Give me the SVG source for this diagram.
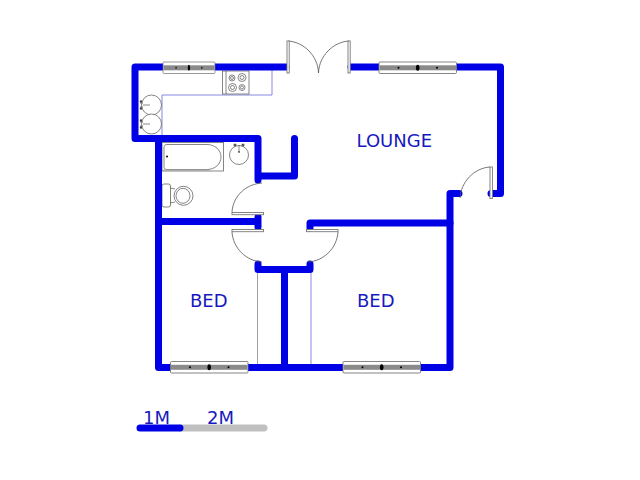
<svg xmlns="http://www.w3.org/2000/svg" width="640" height="480" viewBox="0 0 640 480">
<style>
.wall{fill:none;stroke:#0000e6;stroke-width:7;stroke-linecap:round;stroke-linejoin:round}
.fit{fill:none;stroke:#555;stroke-width:.7}
.fitw{fill:#fff;stroke:#666;stroke-width:.8}
.thin{fill:none;stroke:#6a6ad8;stroke-width:.8}
.arc{fill:none;stroke:#555;stroke-width:.8}
.leaf{fill:#fff;stroke:#777;stroke-width:.9}
.lbl{font-family:"DejaVu Sans",sans-serif;font-size:18px;fill:#1818c0}
.d{fill:#000}
</style>
<defs>
<g id="win78">
<rect x="0" y="0" width="77.5" height="11.5" rx="1" fill="#fff" stroke="#777" stroke-width=".9"/>
<rect x=".5" y="3.3" width="76.5" height="5" fill="#8a8a8a"/>
<ellipse cx="38.7" cy="5.8" rx="1.8" ry="3" fill="#000"/>
<circle cx="19.5" cy="5.8" r="1" fill="#000"/>
<circle cx="58" cy="5.8" r="1" fill="#000"/>
</g>
</defs>
<g id="fittings">
<path class="thin" d="M272 70V95H162V136"/>
<path class="thin" style="stroke:#888" d="M257.500 272V365"/>
<path class="thin" d="M311 272V365"/>
<g id="stove">
<rect class="fitw" x="222.500" y="71" width="26.500" height="23"/>
<path class="fit" d="M226 71V94"/>
<circle class="fit" cx="232" cy="78" r="3"/><circle class="fit" cx="232" cy="78" r="1.500"/>
<circle class="fit" cx="242" cy="77.500" r="4"/><circle class="fit" cx="242" cy="77.500" r="2"/>
<circle class="fit" cx="232.500" cy="87.500" r="4"/><circle class="fit" cx="232.500" cy="87.500" r="2"/>
<circle class="fit" cx="242" cy="87.500" r="3"/><circle class="fit" cx="242" cy="87.500" r="1.500"/>
</g>
<g id="sink1"><circle class="fitw" cx="151.500" cy="105" r="10"/><path class="fit" d="M140 103h3M140 107h3M143 105h7"/><circle cx="141" cy="101.500" r="1.200" fill="#444"/><circle cx="141" cy="108.500" r="1.200" fill="#444"/></g>
<g id="sink2"><circle class="fitw" cx="151.500" cy="124" r="10"/><path class="fit" d="M140 122h3M140 126h3M143 124h7"/><circle cx="141" cy="120.500" r="1.200" fill="#444"/><circle cx="141" cy="127.500" r="1.200" fill="#444"/></g>
<g id="bath">
<rect class="fitw" x="162" y="142.500" width="61.500" height="28.500"/>
<path class="fit" d="M167 144.500H207C215 144.500 221 150 221 157C221 164 215 169.500 207 169.500H167C165 169.500 164 168.500 164 166.500V147.500C164 145.500 165 144.500 167 144.500Z"/>
<path d="M163 170H210" stroke="#999" stroke-width="1.200"/>
<circle class="d" cx="167" cy="156.500" r="1"/>
</g>
<g id="basin">
<circle class="fitw" cx="239" cy="155" r="9.500"/>
<circle cx="235" cy="145" r="1.500" fill="#555"/><circle cx="243" cy="145" r="1.500" fill="#555"/>
<path class="fit" d="M239 145V152"/><circle class="d" cx="239" cy="152" r=".8"/>
</g>
<g id="toilet">
<rect class="fitw" x="162" y="184" width="8.500" height="23" rx="2"/>
<path class="fit" d="M170 188L175 189M170 203L175 202"/>
<ellipse class="fitw" cx="183.500" cy="195.800" rx="9.500" ry="9.500"/>
<ellipse class="fit" cx="183" cy="195.800" rx="7" ry="7.500"/>
</g>
</g>
<g id="walls" class="connectors">
<path class="wall" d="M165 67H135V138.500H258V180M258 176H294.500V138.500"/>
<path class="wall" d="M215 67H286"/>
<path class="wall" d="M351 67H500.500V193.500H491"/>
<path class="wall" d="M158.500 138.500V367.500H170"/>
<path class="wall" d="M158.500 221.500H258M258 217V227"/>
<path class="wall" d="M258 264V269.500H310V264"/>
<path class="wall" d="M284.500 269.500V367.500"/>
<path class="wall" d="M247 367.500H344M420 367.500H450V193.500H459"/>
<path class="wall" d="M450 223H310V228"/>
</g>
<g id="windows">
<use href="#win78" transform="translate(163 62) scale(.67 1)"/>
<use href="#win78" transform="translate(379 62)"/>
<use href="#win78" transform="translate(170.500 361.500)"/>
<use href="#win78" transform="translate(343 361.500)"/>
</g>
<g id="doors">
<g id="door-entry-l"><path class="arc" d="M288 41C304 42 318 56 318.500 73"/><rect class="leaf" x="287" y="41" width="2.200" height="32"/></g>
<g id="door-entry-r"><path class="arc" d="M349 41C333 42 319 56 318.500 73"/><rect class="leaf" x="348" y="41" width="2.200" height="32"/></g>
<g id="door-side"><path class="arc" d="M490 167C474 168 461 182 460 198"/><rect class="leaf" x="490" y="167" width="2.400" height="31.500"/></g>
<g id="door-bath"><path class="arc" d="M232 212C233 196 246 184 262 183"/><rect class="leaf" x="232" y="212.500" width="31.500" height="2.200"/></g>
<g id="door-bed1"><path class="arc" d="M232 232C233 248 246 261 262 262"/><rect class="leaf" x="232" y="229.500" width="31.500" height="2.200"/></g>
<g id="door-bed2"><path class="arc" d="M338 232C337 248 324 261 308 262"/><rect class="leaf" x="306.500" y="229.500" width="31.500" height="2.200"/></g>
</g>
<g id="labels">
<text class="lbl" x="356.500" y="147">LOUNGE</text>
<text class="lbl" x="190" y="307">BED</text>
<text class="lbl" x="357" y="306.500">BED</text>
</g>
<g id="scale">
<path d="M180 428H264" stroke="#c0c0c0" stroke-width="7" stroke-linecap="round" fill="none"/>
<path d="M140 428H180" stroke="#0000e6" stroke-width="7" stroke-linecap="round" fill="none"/>
<text class="lbl" x="143" y="424">1M</text>
<text class="lbl" x="207" y="424">2M</text>
</g>
</svg>
